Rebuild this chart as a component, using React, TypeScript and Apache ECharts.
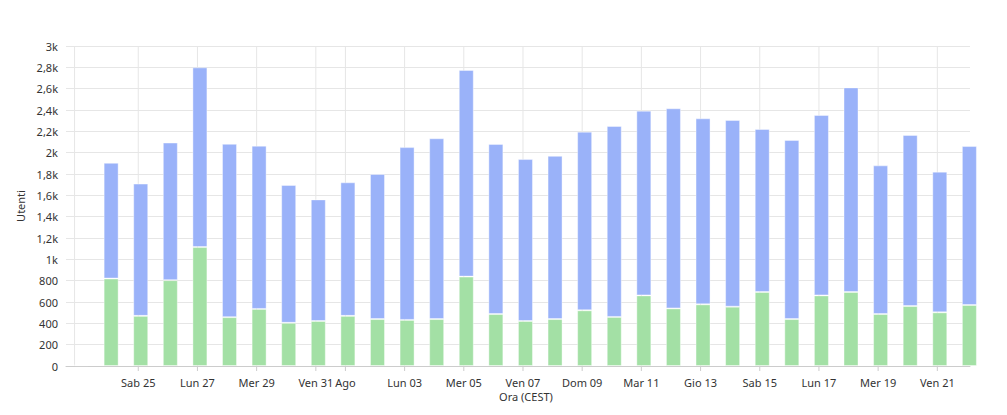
import { useEffect, useRef } from "react"
import * as echarts from "echarts"

// giorni (mezzanotte UTC)
const dates = [
  "2018-08-23", "2018-08-24", "2018-08-25", "2018-08-26", "2018-08-27", "2018-08-28",
  "2018-08-29", "2018-08-30", "2018-08-31", "2018-09-01", "2018-09-02", "2018-09-03",
  "2018-09-04", "2018-09-05", "2018-09-06", "2018-09-07", "2018-09-08", "2018-09-09",
  "2018-09-10", "2018-09-11", "2018-09-12", "2018-09-13", "2018-09-14", "2018-09-15",
  "2018-09-16", "2018-09-17", "2018-09-18", "2018-09-19", "2018-09-20", "2018-09-21",
  "2018-09-22",
]

const newUsers = [
  8, 820, 470, 805, 1115, 458, 535, 405, 422, 470, 440, 432, 440, 838, 487, 422,
  440, 522, 460, 662, 540, 578, 556, 694, 440, 662, 694, 487, 562, 503, 572,
]

const returningUsers = [
  0, 1085, 1240, 1290, 1685, 1625, 1530, 1292, 1140, 1252, 1360, 1620, 1695, 1937, 1595, 1518,
  1530, 1675, 1790, 1732, 1876, 1744, 1750, 1528, 1679, 1691, 1918, 1394, 1604, 1319, 1490,
]

// tacche asse x (mezzanotte CEST)
const tickDates = [
  "2018-08-25", "2018-08-27", "2018-08-29", "2018-08-31", "2018-09-01", "2018-09-03",
  "2018-09-05", "2018-09-07", "2018-09-09", "2018-09-11", "2018-09-13", "2018-09-15",
  "2018-09-17", "2018-09-19", "2018-09-21",
]
const tickLabels = [
  "Sab 25", "Lun 27", "Mer 29", "Ven 31", "Ago", "Lun 03", "Mer 05", "Ven 07", "Dom 09",
  "Mar 11", "Gio 13", "Sab 15", "Lun 17", "Mer 19", "Ven 21",
]

const yLabels = [
  "0", "200", "400", "600", "800", "1k", "1,2k", "1,4k", "1,6k", "1,8k", "2k", "2,2k",
  "2,4k", "2,6k", "2,8k", "3k",
]

const FONT = "'Noto Sans', 'DejaVu Sans', sans-serif"
const TEXT = "#333333"
const GRID = "#e6e6e6"

const cest = (d: string) => Date.parse(d + "T00:00:00+02:00")

export default function App() {
  const chartRef = useRef<HTMLDivElement>(null)

  useEffect(() => {
    if (!chartRef.current) return
    const chart = echarts.init(chartRef.current, undefined, { renderer: "svg" })

    const xs = dates.map((d) => Date.parse(d))
    // asse in millisecondi (tipo value, così ECharts non allarga l'estensione per le barre)
    const xMin = Date.parse("2018-08-22T13:24:00+02:00")
    const xMax = Date.parse("2018-09-22T02:30:00+02:00")

    chart.setOption({
      animation: false,
      grid: { left: 66, right: 37, top: 46, bottom: 49 },
      xAxis: {
        type: "value",
        min: xMin,
        max: xMax,
        name: "Ora (CEST)",
        nameLocation: "middle",
        nameGap: 25,
        nameTextStyle: { color: TEXT, fontFamily: FONT, fontSize: 11, padding: [0, 0, 0, 16] },
        axisLine: { show: true, onZero: false, lineStyle: { color: "#cccccc" } },
        axisTick: { show: false },
        axisLabel: { show: false },
        splitLine: { show: false },
      },
      yAxis: {
        type: "value",
        min: 0,
        max: 3000,
        interval: 200,
        name: "Utenti",
        nameLocation: "middle",
        nameGap: 40,
        nameTextStyle: { color: TEXT, fontFamily: FONT, fontSize: 11 },
        axisLine: { show: false },
        axisTick: { show: false },
        axisLabel: {
          color: TEXT,
          fontFamily: FONT,
          fontSize: 11,
          margin: 8,
          formatter: (v: number) => yLabels[Math.round(v / 200)] ?? "",
        },
        splitLine: { lineStyle: { color: GRID } },
      },
      series: [
        {
          name: "Nuovi utenti",
          type: "bar",
          stack: "utenti",
          barWidth: 15,
          // valore come prima dimensione: è quella che ECharts impila
          encode: { x: 1, y: 0 },
          itemStyle: { color: "#a3e0a5", borderColor: "rgba(255,255,255,0.4)", borderWidth: 1 },
          data: xs.map((x, i) => [newUsers[i], x]),
        },
        {
          name: "Utenti di ritorno",
          type: "bar",
          stack: "utenti",
          barWidth: 15,
          encode: { x: 1, y: 0 },
          itemStyle: { color: "#9ab2f9", borderColor: "rgba(255,255,255,0.4)", borderWidth: 1 },
          data: xs.map((x, i) => [returningUsers[i], x]),
        },
      ],
    })

    // linee verticali, tacche ed etichette calcolate dalla scala dell'asse
    const yTop = chart.convertToPixel({ yAxisIndex: 0 }, 3000) as number
    const yBottom = chart.convertToPixel({ yAxisIndex: 0 }, 0) as number
    const edgeX = chart.convertToPixel({ xAxisIndex: 0 }, Date.parse("2018-08-22T20:20:00+02:00")) as number
    const elements: any[] = [
      {
        type: "line",
        z: 1,
        silent: true,
        shape: { x1: edgeX, y1: yTop, x2: edgeX, y2: yBottom },
        style: { stroke: GRID, lineWidth: 1 },
      },
    ]
    tickDates.forEach((d, i) => {
      const px = chart.convertToPixel({ xAxisIndex: 0 }, cest(d)) as number
      elements.push(
        {
          type: "line",
          z: 1,
          silent: true,
          shape: { x1: px, y1: yTop, x2: px, y2: yBottom },
          style: { stroke: GRID, lineWidth: 1 },
        },
        {
          type: "line",
          z: 1,
          silent: true,
          shape: { x1: px, y1: yBottom, x2: px, y2: yBottom + 5 },
          style: { stroke: "#cccccc", lineWidth: 1 },
        },
        {
          type: "text",
          z: 1,
          silent: true,
          x: px,
          y: yBottom + 16,
          style: {
            text: tickLabels[i],
            fill: TEXT,
            font: `11px ${FONT}`,
            align: "center",
            verticalAlign: "middle",
          },
        }
      )
    })
    chart.setOption({ graphic: elements })

    return () => {
      chart.dispose()
    }
  }, [])

  return (
    <div
      ref={chartRef}
      style={{ position: "absolute", left: 0, top: 0, width: 1007, height: 415 }}
    />
  )
}
